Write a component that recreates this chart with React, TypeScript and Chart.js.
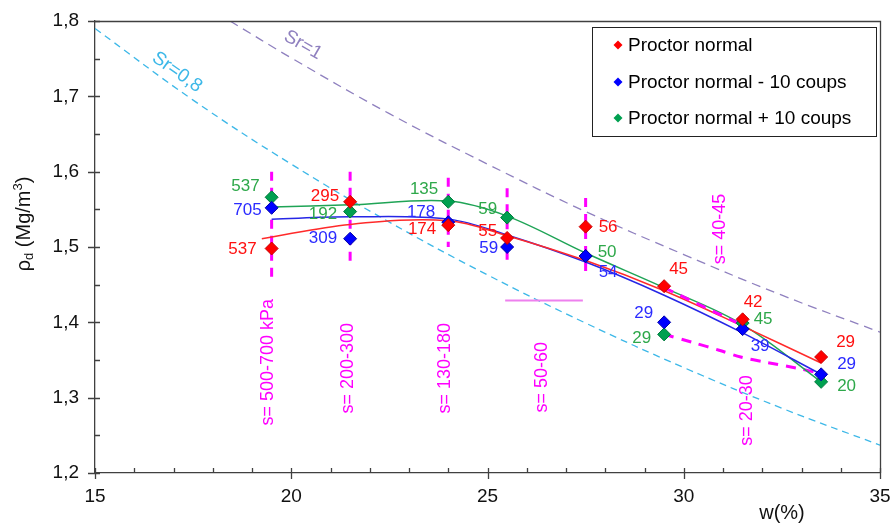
import React, { useEffect, useRef } from 'react';
import { Chart, registerables } from 'chart.js';

Chart.register(...registerables);

// ---------- data ----------
const W_VALUES = [19.5, 21.5, 24, 25.5, 27.5, 29.5, 31.5, 33.5];
const RHO_NORMAL = [1.498, 1.56, 1.529, 1.512, 1.527, 1.448, 1.404, 1.354];
const RHO_MINUS10 = [1.552, 1.511, 1.533, 1.5, 1.488, 1.4, 1.391, 1.331];
const RHO_PLUS10 = [1.566, 1.547, 1.56, 1.539, 1.488, 1.384, 1.399, 1.321];

const SUCTION_NORMAL = ['537', '295', '174', '55', '56', '45', '42', '29'];
const SUCTION_MINUS10 = ['705', '309', '178', '59', '54', '29', '39', '29'];
const SUCTION_PLUS10 = ['537', '192', '135', '59', '50', '29', '45', '20'];

const TREND_W_NORMAL = [19.25, 21.5, 24, 25.5, 27.5, 29.5, 31.5, 33.5];
const TREND_NORMAL = [1.511, 1.53, 1.535, 1.515, 1.482, 1.442, 1.395, 1.346];
const TREND_W = [19.5, 21.5, 24, 25.5, 27.5, 29.5, 31.5, 33.5];
const TREND_MINUS10 = [1.537, 1.54, 1.537, 1.516, 1.48, 1.436, 1.386, 1.331];
const TREND_PLUS10 = [1.553, 1.556, 1.561, 1.541, 1.492, 1.446, 1.397, 1.321];

const SR08_W = [15, 17.5, 20, 22.5, 25, 27.5, 30, 32.5, 35];
const SR08_RHO = [1.79, 1.695, 1.61, 1.533, 1.463, 1.399, 1.34, 1.286, 1.237];
const SR1_W = [18.44, 20, 22.5, 25, 27.5, 30, 32.5, 35];
const SR1_RHO = [1.8, 1.751, 1.677, 1.61, 1.547, 1.49, 1.436, 1.387];

const BAND_W = [19.5, 21.5, 24, 25.5, 27.5];
const BAND_TOP = [1.6, 1.6, 1.592, 1.578, 1.565];
const BAND_BOTTOM = [1.457, 1.476, 1.5, 1.483, 1.46];

const HLINE_W = [25.45, 27.43];
const HLINE_RHO = [1.429, 1.429];

const S40_W = [29.5, 31.5];
const S40_RHO = [1.446, 1.396];
const S20_W = [29.5, 30.25, 30.9, 31.45, 32.1, 32.9, 33.5];
const S20_RHO = [1.384, 1.373, 1.363, 1.354, 1.347, 1.339, 1.332];

const SUCTION_TEXTS = ['s= 500-700 kPa', 's= 200-300', 's= 130-180', 's= 50-60', 's= 40-45', 's= 20-30'];
const SUCTION_TEXT_W = [19.41, 21.45, 23.92, 26.39, 30.92, 31.61];
const SUCTION_TEXT_RHO = [1.347, 1.339, 1.339, 1.327, 1.524, 1.283];

const SERIES_LABELS = ['Proctor normal', 'Proctor normal - 10 coups', 'Proctor normal + 10 coups'];
const X_TICK_LABELS = ['15', '20', '25', '30', '35'];
const Y_TICK_LABELS = ['1,2', '1,3', '1,4', '1,5', '1,6', '1,7', '1,8'];

// ---------- styles ----------
const FONT = '"Liberation Sans", Arial, sans-serif';
const RED = '#FF0000';
const BLUE = '#0000FF';
const GREEN = '#00A050';
const MAGENTA = '#FF00FF';
const CYAN = '#3DB8E8';
const PURPLE = '#8F80BF';
const AXIS = '#404040';

type Off = [number, number, CanvasTextAlign];
const OFF_NORMAL: Off[] = [[-15, 1, 'right'], [-11, -5, 'right'], [-12, 4, 'right'], [-10, -7, 'right'], [13, 1, 'left'], [5, -17, 'left'], [1, -17, 'left'], [15, -15, 'left']];
const OFF_MINUS10: Off[] = [[-10, 2, 'right'], [-13, 0, 'right'], [-13, -10, 'right'], [-9, 1, 'right'], [13, 16, 'left'], [-11, -9, 'right'], [8, 17, 'left'], [16, -10, 'left']];
const OFF_PLUS10: Off[] = [[-12, -11, 'right'], [-13, 3, 'right'], [-10, -12, 'right'], [-10, -8, 'right'], [12, -4, 'left'], [-13, 4, 'right'], [11, -4, 'left'], [16, 4, 'left']];

const pts = (xs: number[], ys: number[]) => xs.map((x, i) => ({ x, y: ys[i] }));

const customPlugin = {
  id: 'customDraw',
  beforeDatasetsDraw(chart: any) {
    const ctx = chart.ctx;
    const xs = chart.scales.x;
    const ys = chart.scales.y;
    ctx.save();
    ctx.fillStyle = MAGENTA;
    ctx.font = `18px ${FONT}`;
    ctx.textAlign = 'center';
    ctx.textBaseline = 'middle';
    SUCTION_TEXTS.forEach((t, i) => {
      ctx.save();
      ctx.translate(xs.getPixelForValue(SUCTION_TEXT_W[i]), ys.getPixelForValue(SUCTION_TEXT_RHO[i]));
      ctx.rotate(-Math.PI / 2);
      ctx.fillText(t, 0, 0);
      ctx.restore();
    });
    // Sr labels
    ctx.font = `19px ${FONT}`;
    ctx.fillStyle = CYAN;
    ctx.save();
    ctx.translate(xs.getPixelForValue(17.09), ys.getPixelForValue(1.732));
    ctx.rotate((35 * Math.PI) / 180);
    ctx.fillText('Sr=0,8', 0, 0);
    ctx.restore();
    ctx.fillStyle = PURPLE;
    ctx.save();
    ctx.translate(xs.getPixelForValue(20.3), ys.getPixelForValue(1.768));
    ctx.rotate((30 * Math.PI) / 180);
    ctx.fillText('Sr=1', 0, 0);
    ctx.restore();
    ctx.restore();
  },
  afterDatasetsDraw(chart: any) {
    const ctx = chart.ctx;
    const groups: [number, string[], Off[], string][] = [
      [0, SUCTION_NORMAL, OFF_NORMAL, '#FF1010'],
      [1, SUCTION_MINUS10, OFF_MINUS10, '#2B2BFF'],
      [2, SUCTION_PLUS10, OFF_PLUS10, '#2EA84A'],
    ];
    ctx.save();
    ctx.font = `17px ${FONT}`;
    ctx.textBaseline = 'middle';
    groups.forEach(([di, labels, offs, color]) => {
      const meta = chart.getDatasetMeta(di);
      ctx.fillStyle = color;
      meta.data.forEach((el: any, i: number) => {
        const o = offs[i];
        ctx.textAlign = o[2];
        ctx.fillText(labels[i], el.x + o[0], el.y + o[1]);
      });
    });
    ctx.restore();
  },
  afterDraw(chart: any) {
    const ctx = chart.ctx;
    const { left, right, top, bottom } = chart.chartArea;
    const xs = chart.scales.x;
    const ys = chart.scales.y;
    ctx.save();
    ctx.strokeStyle = AXIS;
    ctx.lineWidth = 1.3;
    // frame top & right
    ctx.beginPath();
    ctx.moveTo(left, Math.round(top) + 0.5);
    ctx.lineTo(Math.round(right) + 0.5, Math.round(top) + 0.5);
    ctx.lineTo(Math.round(right) + 0.5, bottom);
    ctx.stroke();
    // y ticks
    ctx.beginPath();
    for (let v = 1.2; v <= 1.8001; v += 0.05) {
      const py = Math.round(ys.getPixelForValue(v)) + 0.5;
      const major = Math.abs(v * 10 - Math.round(v * 10)) < 0.01;
      ctx.moveTo(major ? left - 7 : left, py);
      ctx.lineTo(left + 5, py);
    }
    // x ticks
    for (let v = 15; v <= 35; v += 1) {
      const px = Math.round(xs.getPixelForValue(v)) + 0.5;
      const major = v % 5 === 0;
      ctx.moveTo(px, bottom - 5);
      ctx.lineTo(px, major ? bottom + 6 : bottom);
    }
    ctx.stroke();

    // axis titles
    ctx.fillStyle = '#111';
    ctx.font = `20px ${FONT}`;
    ctx.textAlign = 'center';
    ctx.textBaseline = 'middle';
    ctx.fillText('w(%)', 782, 513);

    ctx.save();
    ctx.translate(30, 224);
    ctx.rotate(-Math.PI / 2);
    ctx.textBaseline = 'alphabetic';
    ctx.textAlign = 'left';
    const pieces: [string, number, number][] = [
      ['ρ', 20, 0],
      ['d', 13, 3],
      [' (Mg/m', 20, 0],
      ['3', 13, -8],
      [')', 20, 0],
    ];
    let total = 0;
    pieces.forEach(([t, s]) => {
      ctx.font = `${s}px ${FONT}`;
      total += ctx.measureText(t).width;
    });
    let cx = -total / 2;
    pieces.forEach(([t, s, dy]) => {
      ctx.font = `${s}px ${FONT}`;
      ctx.fillText(t, cx, dy);
      cx += ctx.measureText(t).width;
    });
    ctx.restore();

    // legend
    ctx.fillStyle = '#fff';
    ctx.fillRect(592.5, 27.5, 284, 109);
    ctx.strokeStyle = '#222';
    ctx.lineWidth = 1;
    ctx.strokeRect(592.5, 27.5, 284, 109);
    const colors = [RED, BLUE, GREEN];
    const rows = [45, 82, 118];
    ctx.font = `19px ${FONT}`;
    ctx.textAlign = 'left';
    ctx.textBaseline = 'middle';
    SERIES_LABELS.forEach((lab, i) => {
      const cy = rows[i];
      const r = 4.5;
      ctx.fillStyle = colors[i];
      ctx.beginPath();
      ctx.moveTo(618 - r, cy);
      ctx.lineTo(618, cy - r);
      ctx.lineTo(618 + r, cy);
      ctx.lineTo(618, cy + r);
      ctx.closePath();
      ctx.fill();
      ctx.fillStyle = '#000';
      ctx.fillText(lab, 628, cy + 1);
    });
    ctx.restore();
  },
};

export default function App() {
  const ref = useRef<HTMLCanvasElement>(null);

  useEffect(() => {
    if (!ref.current) return;
    const pointSet = (label: string, ys: number[], fill: string, border: string) => ({
      label,
      data: pts(W_VALUES, ys),
      showLine: false,
      pointStyle: 'rectRot',
      pointRadius: 6.5,
      pointHoverRadius: 6.5,
      backgroundColor: fill,
      borderColor: border,
      borderWidth: 1,
      order: 0,
    });
    const lineSet = (label: string, data: any[], color: string, width: number, dash: number[] = [], order = 1, tension = 0.4) => ({
      label,
      data,
      showLine: true,
      pointRadius: 0,
      pointHoverRadius: 0,
      borderColor: color,
      backgroundColor: color,
      borderWidth: width,
      borderDash: dash,
      tension,
      cubicInterpolationMode: 'default',
      fill: false,
      order,
    });

    const datasets: any[] = [
      pointSet(SERIES_LABELS[0], RHO_NORMAL, RED, '#C80000'),
      pointSet(SERIES_LABELS[1], RHO_MINUS10, BLUE, '#0000A8'),
      pointSet(SERIES_LABELS[2], RHO_PLUS10, GREEN, '#007A3C'),
      lineSet('s40', pts(S40_W, S40_RHO), MAGENTA, 3, [10, 8], 0.5, 0),
      lineSet('trend normal', pts(TREND_W_NORMAL, TREND_NORMAL), '#FF2A2A', 1.5, [], 1, 0.35),
      lineSet('trend -10', pts(TREND_W, TREND_MINUS10), '#2626E6', 1.5, [], 1, 0.35),
      lineSet('trend +10', pts(TREND_W, TREND_PLUS10), '#1FA456', 1.5, [], 1, 0.35),
      ...BAND_W.map((w, i) =>
        lineSet('band ' + i, [{ x: w, y: BAND_TOP[i] }, { x: w, y: BAND_BOTTOM[i] }], MAGENTA, 3, [9, 7], 2, 0)
      ),
      lineSet('hline', pts(HLINE_W, HLINE_RHO), '#EE80EE', 2, [], 2, 0),
      lineSet('s20', pts(S20_W, S20_RHO), MAGENTA, 3, [10, 8], 2, 0.3),
      lineSet('Sr=0,8', pts(SR08_W, SR08_RHO), CYAN, 1.3, [7, 5], 3, 0.4),
      lineSet('Sr=1', pts(SR1_W, SR1_RHO), PURPLE, 1.3, [9, 6], 3, 0.4),
    ];

    const chart = new Chart(ref.current, {
      type: 'scatter',
      data: { datasets },
      options: {
        animation: false,
        responsive: false,
        maintainAspectRatio: false,
        devicePixelRatio: 1,
        events: [],
        layout: { padding: { left: 0, top: 21, right: 10, bottom: 0 } },
        plugins: {
          legend: { display: false },
          tooltip: { enabled: false },
          title: { display: false },
        },
        scales: {
          x: {
            type: 'linear',
            min: 15,
            max: 35,
            border: { display: true, color: AXIS, width: 1.3 },
            grid: { display: true, drawOnChartArea: false, drawTicks: false },
            ticks: {
              stepSize: 5,
              padding: 12,
              color: '#111',
              font: { family: FONT, size: 19 },
              callback: (v: any, i: number) => X_TICK_LABELS[i] ?? String(v),
            },
            afterFit: (s: any) => {
              s.height = 51;
              s.paddingLeft = 0;
              s.paddingRight = 0;
            },
          },
          y: {
            type: 'linear',
            min: 1.2,
            max: 1.8,
            border: { display: true, color: AXIS, width: 1.3 },
            grid: { display: true, drawOnChartArea: false, drawTicks: false },
            ticks: {
              stepSize: 0.1,
              padding: 16,
              color: '#111',
              font: { family: FONT, size: 19 },
              callback: (v: any, i: number) => Y_TICK_LABELS[i] ?? Number(v).toFixed(1).replace('.', ','),
            },
            afterFit: (s: any) => {
              s.width = 95;
              s.paddingTop = 0;
              s.paddingBottom = 0;
            },
          },
        },
      },
      plugins: [customPlugin],
    } as any);

    return () => chart.destroy();
  }, []);

  return (
    <div style={{ position: 'fixed', left: 0, top: 0, width: 890, height: 524, background: '#fff' }}>
      <canvas ref={ref} width={890} height={524} style={{ width: '890px', height: '524px', display: 'block' }} />
    </div>
  );
}
